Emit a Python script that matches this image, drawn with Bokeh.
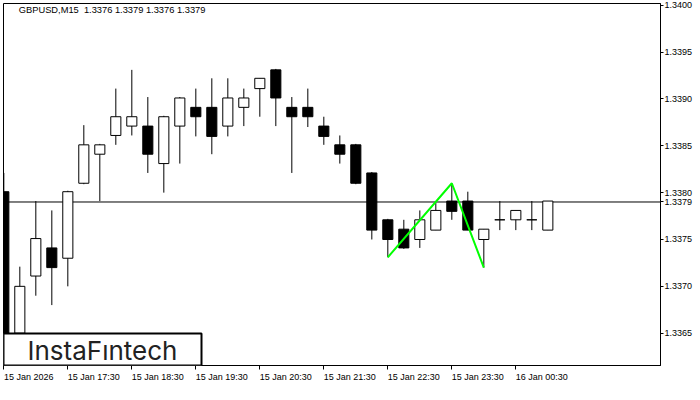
from bokeh.plotting import figure
from bokeh.models import Range1d, FixedTicker, Span, Label, BoxAnnotation, ColumnDataSource
from bokeh.embed import file_html
from bokeh.resources import INLINE

# ---- data -------------------------------------------------------------
symbol = "GBPUSD,M15"
last_ohlc = ["1.3376", "1.3379", "1.3376", "1.3379"]
current_price = 1.3379

opens = [1.33801, 1.33650, 1.33711, 1.33741, 1.33730, 1.33810, 1.33841, 1.33861, 1.33871, 1.33871,
         1.33831, 1.33871, 1.33891, 1.33891, 1.33871, 1.33891, 1.33911, 1.33931, 1.33891, 1.33891,
         1.33871, 1.33851, 1.33851, 1.33821, 1.33771, 1.33761, 1.33750, 1.33760, 1.33791, 1.33791,
         1.33750, 1.33771, 1.33771, 1.33771, 1.33760]
highs = [1.33821, 1.33721, 1.33791, 1.33781, 1.33802, 1.33872, 1.33852, 1.33911, 1.33931, 1.33902,
         1.33882, 1.33902, 1.33911, 1.33922, 1.33922, 1.33911, 1.33922, 1.33932, 1.33902, 1.33911,
         1.33881, 1.33861, 1.33852, 1.33822, 1.33772, 1.33771, 1.33781, 1.33789, 1.33810, 1.33801,
         1.33761, 1.33791, 1.33781, 1.33791, 1.33791]
lows = [1.33648, 1.33625, 1.33690, 1.33680, 1.33700, 1.33809, 1.33791, 1.33851, 1.33861, 1.33821,
        1.33800, 1.33831, 1.33860, 1.33841, 1.33860, 1.33871, 1.33881, 1.33871, 1.33821, 1.33870,
        1.33851, 1.33831, 1.33809, 1.33750, 1.33731, 1.33740, 1.33741, 1.33760, 1.33771, 1.33760,
        1.33720, 1.33760, 1.33760, 1.33760, 1.33760]
closes = [1.33650, 1.33700, 1.33751, 1.33720, 1.33801, 1.33851, 1.33851, 1.33881, 1.33881, 1.33841,
          1.33881, 1.33901, 1.33881, 1.33860, 1.33901, 1.33901, 1.33922, 1.33901, 1.33881, 1.33881,
          1.33860, 1.33841, 1.33810, 1.33760, 1.33750, 1.33741, 1.33771, 1.33781, 1.33780, 1.33760,
          1.33761, 1.33771, 1.33781, 1.33771, 1.33791]

time_labels = ["15 Jan 2026", "15 Jan 17:30", "15 Jan 18:30", "15 Jan 19:30", "15 Jan 20:30",
               "15 Jan 21:30", "15 Jan 22:30", "15 Jan 23:30", "16 Jan 00:30"]
bars_per_label = 4

price_ticks = [1.3365, 1.3370, 1.3375, 1.3380, 1.3385, 1.3390, 1.3395, 1.3400]

# pattern (double top) pivot bars and prices
pattern_bars = [24, 28, 30]
pattern_prices = [1.33731, 1.33810, 1.33720]

# ---- figure -----------------------------------------------------------
FW, FH = 657, 362
BL, BT = 3, 3
PX_PER_BAR = 16.0
PX_PER_PRICE = 93714.0
x_start = -0.02
top_price = 1.3400 + (4.7 - BT) / PX_PER_PRICE
bottom_price = top_price - FH / PX_PER_PRICE

p = figure(frame_width=FW, frame_height=FH, output_backend="svg", toolbar_location=None,
           y_axis_location="right", min_border_left=BL, min_border_top=BT,
           min_border_right=0, min_border_bottom=0,
           x_range=Range1d(x_start, x_start + FW / PX_PER_BAR),
           y_range=Range1d(bottom_price, top_price))
p.background_fill_color = "white"
p.border_fill_color = "white"
p.outline_line_color = "black"
p.outline_line_width = 1
p.xgrid.visible = False
p.ygrid.visible = False

FONT = "Liberation Sans"
AXIS_PX = 9

# price axis (with the current price among its labels)
axis_prices = sorted(price_ticks + [current_price])
ya = p.yaxis[0]
ya.ticker = FixedTicker(ticks=axis_prices)
ya.major_label_overrides = {t: f"{t:.4f}" for t in axis_prices}
ya.major_tick_out = 3
ya.major_tick_in = 0
ya.minor_tick_out = 0
ya.minor_tick_in = 0
ya.major_label_standoff = 1
ya.axis_line_color = "black"
ya.major_tick_line_color = "black"
ya.major_label_text_font = FONT
ya.major_label_text_font_size = f"{AXIS_PX}px"
ya.major_label_text_color = "black"

# time axis: tick marks at the bar of each label (minor ticks), texts left-aligned
# at those marks (major ticks shifted by half the text width, no marks)
ARIAL_W = {"0": .556, "1": .556, "2": .556, "3": .556, "4": .556, "5": .556, "6": .556,
           "7": .556, "8": .556, "9": .556, " ": .278, ":": .278, "J": .5, "a": .556, "n": .556}
tick_pos = [i * bars_per_label for i in range(len(time_labels))]
label_pos = []
for tx, lab in zip(tick_pos, time_labels):
    w_px = sum(ARIAL_W.get(ch, .556) for ch in lab) * AXIS_PX
    label_pos.append(tx + round(w_px / 2) / PX_PER_BAR)

xa = p.xaxis[0]
xa.ticker = FixedTicker(ticks=label_pos, minor_ticks=tick_pos)
xa.major_label_overrides = {lp: lab for lp, lab in zip(label_pos, time_labels)}
xa.major_tick_out = 0
xa.major_tick_in = 0
xa.minor_tick_out = 4
xa.minor_tick_in = 0
xa.minor_tick_line_color = "black"
xa.major_label_standoff = 2
xa.major_label_text_line_height = 1.0
xa.axis_line_color = "black"
xa.major_label_text_font = FONT
xa.major_label_text_font_size = f"{AXIS_PX}px"
xa.major_label_text_color = "black"

# current price line (behind candles)
p.add_layout(Span(location=current_price, dimension="width", line_color="black",
                  line_width=1, level="underlay"))

# candles
idx = list(range(len(opens)))
up = [i for i in idx if closes[i] >= opens[i]]
dn = [i for i in idx if closes[i] < opens[i]]

wick = ColumnDataSource(dict(x=idx, low=lows, high=highs))
p.segment(x0="x", y0="low", x1="x", y1="high", source=wick, line_color="black", line_width=1)

src_up = ColumnDataSource(dict(x=up, top=[closes[i] for i in up], bottom=[opens[i] for i in up]))
src_dn = ColumnDataSource(dict(x=dn, top=[opens[i] for i in dn], bottom=[closes[i] for i in dn]))
BW = 0.63
p.vbar(x="x", top="top", bottom="bottom", width=BW, source=src_up,
       fill_color="white", line_color="black", line_width=1)
p.vbar(x="x", top="top", bottom="bottom", width=BW, source=src_dn,
       fill_color="black", line_color="black", line_width=1)

# pattern line
p.line(pattern_bars, pattern_prices, line_color="#00ff00", line_width=2)

# title text
p.add_layout(Label(x=15.3, y=FH - 1.7, x_units="screen", y_units="screen",
                   text=symbol + "\u00a0\u00a0" + " ".join(last_ohlc), text_font=FONT,
                   text_font_size="9.3px", text_color="black", text_baseline="top",
                   text_align="left"))

# logo box
box_top = 32
p.add_layout(BoxAnnotation(left=0, right=198, bottom=0, top=box_top,
                           left_units="screen", right_units="screen",
                           bottom_units="screen", top_units="screen",
                           fill_color="white", fill_alpha=1.0,
                           line_color="black", line_width=2, line_alpha=1.0))
p.add_layout(Label(x=99, y=box_top / 2 - 1, x_units="screen", y_units="screen",
                   text="InstaFıntech", text_font="Inter", text_font_size="26px",
                   text_color="#222222", text_baseline="middle", text_align="center"))

open("out.html", "w").write(file_html(p, INLINE))
